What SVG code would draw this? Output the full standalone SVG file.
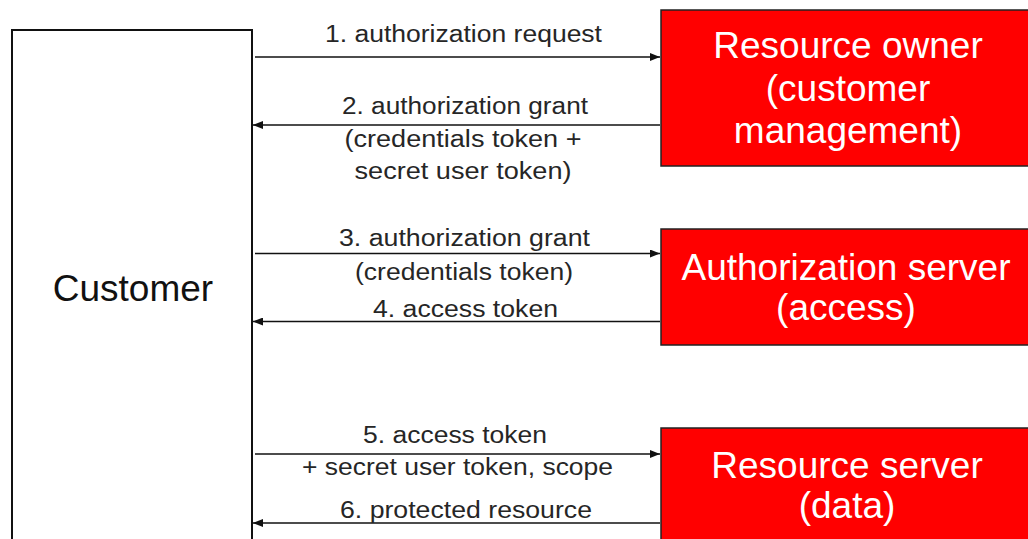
<svg xmlns="http://www.w3.org/2000/svg" width="1028" height="539" viewBox="0 0 1028 539">
  <style>
    .box { fill: #ffffff; stroke: #111; stroke-width: 2; }
    .red { fill: #ff0000; stroke: #222; stroke-width: 1.5; }
    .big { font-family: "Liberation Sans", Arial, sans-serif; font-size: 37px; text-anchor: middle; }
    .lbl { font-family: "Liberation Sans", Arial, sans-serif; font-size: 23px; fill: #262626; text-anchor: middle; }
    .wire { stroke: #111; stroke-width: 1.6; fill: none; marker-end: url(#head); }
  </style>
  <defs>
    <marker id="head" viewBox="0 0 10 8" refX="10" refY="4" markerWidth="10" markerHeight="8" markerUnits="userSpaceOnUse" orient="auto">
      <path d="M0,0 L10,4 L0,8 Z" fill="#111"/>
    </marker>
  </defs>

  <rect width="1028" height="539" fill="#ffffff"/>

  <g id="customer">
    <rect class="box" x="12" y="30" width="240" height="530"/>
    <text class="big" x="133" y="301" fill="#111">Customer</text>
  </g>

  <g id="resource-owner">
    <rect class="red" x="661" y="10" width="380" height="156"/>
    <text class="big" x="848" y="58" fill="#ffffff">Resource owner</text>
    <text class="big" x="848" y="101" fill="#ffffff">(customer</text>
    <text class="big" x="848" y="143" fill="#ffffff">management)</text>
  </g>

  <g id="authorization-server">
    <rect class="red" x="661" y="229" width="380" height="116"/>
    <text class="big" x="846" y="280" fill="#ffffff">Authorization server</text>
    <text class="big" x="846" y="320" fill="#ffffff">(access)</text>
  </g>

  <g id="resource-server">
    <rect class="red" x="661" y="428" width="380" height="130"/>
    <text class="big" x="847" y="478" fill="#ffffff">Resource server</text>
    <text class="big" x="847" y="518" fill="#ffffff">(data)</text>
  </g>

  <g id="connectors">
    <line class="wire" x1="255" y1="57" x2="660" y2="57"/>
    <line class="wire" x1="660" y1="125" x2="253" y2="125"/>
    <line class="wire" x1="255" y1="253.5" x2="660" y2="253.5"/>
    <line class="wire" x1="660" y1="321.5" x2="253" y2="321.5"/>
    <line class="wire" x1="255" y1="454" x2="660" y2="454"/>
    <line class="wire" x1="660" y1="523" x2="253" y2="523"/>

    <text class="lbl" x="463.5" y="42" textLength="277" lengthAdjust="spacingAndGlyphs">1. authorization request</text>
    <text class="lbl" x="465" y="114" textLength="246" lengthAdjust="spacingAndGlyphs">2. authorization grant</text>
    <text class="lbl" x="463" y="147" textLength="237" lengthAdjust="spacingAndGlyphs">(credentials token +</text>
    <text class="lbl" x="463" y="179" textLength="217" lengthAdjust="spacingAndGlyphs">secret user token)</text>
    <text class="lbl" x="464.5" y="246" textLength="251" lengthAdjust="spacingAndGlyphs">3. authorization grant</text>
    <text class="lbl" x="464" y="280" textLength="218" lengthAdjust="spacingAndGlyphs">(credentials token)</text>
    <text class="lbl" x="465.5" y="316.5" textLength="185" lengthAdjust="spacingAndGlyphs">4. access token</text>
    <text class="lbl" x="455" y="443" textLength="184" lengthAdjust="spacingAndGlyphs">5. access token</text>
    <text class="lbl" x="457.5" y="475" textLength="311" lengthAdjust="spacingAndGlyphs">+ secret user token, scope</text>
    <text class="lbl" x="466" y="518" textLength="252" lengthAdjust="spacingAndGlyphs">6. protected resource</text>
  </g>
</svg>
